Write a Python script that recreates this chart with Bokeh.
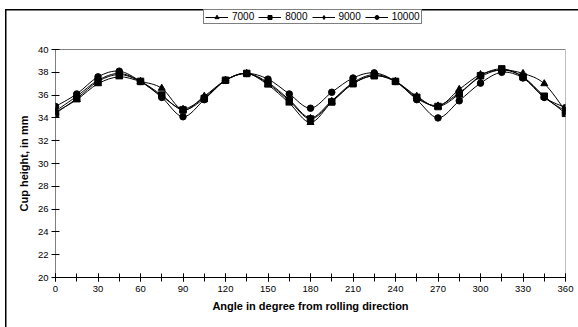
from bokeh.plotting import figure
from bokeh.models import (FixedTicker, Legend, LegendItem, Title,
                          ColumnDataSource, Range1d)
from bokeh.embed import file_html
from bokeh.resources import INLINE

# ---- data ----
angles = [0, 15, 30, 45, 60, 75, 90, 105, 120, 135, 150, 165, 180,
          195, 210, 225, 240, 255, 270, 285, 300, 315, 330, 345, 360]
h7000 = [34.5, 35.6, 37.0, 37.6, 37.2, 36.6, 34.7, 35.9, 37.3, 37.9, 36.9, 35.3, 33.6,
         35.4, 37.0, 37.7, 37.2, 35.9, 35.0, 36.5, 37.8, 38.2, 37.9, 37.0, 34.6]
h8000 = [34.4, 35.7, 37.2, 37.8, 37.2, 36.0, 34.7, 35.7, 37.3, 37.9, 37.0, 35.5, 33.9,
         35.4, 37.0, 37.7, 37.2, 35.8, 35.0, 36.1, 37.7, 38.3, 37.6, 35.9, 34.4]
h9000 = [34.6, 35.9, 37.3, 37.9, 37.2, 35.9, 34.8, 35.8, 37.3, 37.9, 37.1, 35.6, 34.0,
         35.5, 37.1, 37.8, 37.2, 35.7, 35.1, 36.2, 37.6, 38.2, 37.6, 35.8, 34.6]
h10000 = [35.0, 36.1, 37.6, 38.1, 37.2, 35.8, 34.1, 35.6, 37.3, 37.9, 37.4, 36.1, 34.85,
          36.25, 37.5, 37.95, 37.2, 35.6, 34.0, 35.5, 37.05, 38.0, 37.5, 35.8, 34.9]
series_names = ["7000", "8000", "9000", "10000"]
series_values = [h7000, h8000, h9000, h10000]
x_major = [0, 30, 60, 90, 120, 150, 180, 210, 240, 270, 300, 330, 360]
y_major = [20, 22, 24, 26, 28, 30, 32, 34, 36, 38, 40]
x_min, x_max = 0, 360
y_min, y_max = 20, 40

FONT = "Liberation Sans"

# plot area is 228 px for 20 units; the frame is extended upward (to hold the legend)
frame_top, frame_bottom = 0, 277
px_per_unit = 228 / (y_max - y_min)
y_top = y_min + (frame_bottom - frame_top) / px_per_unit

p = figure(width=578, height=327, output_backend="svg", toolbar_location=None,
           x_range=Range1d(x_min, x_max), y_range=Range1d(y_min, y_top),
           min_border_left=55, min_border_right=13, min_border_top=frame_top,
           min_border_bottom=327 - frame_bottom)
# outer chart frame: CSS lines behind the transparent canvas
p.styles = {
    "background-color": "white",
    "background-image": "linear-gradient(#000, #000), linear-gradient(#000, #000)",
    "background-size": "1.5px 400px, 700px 1.5px",
    "background-position": "5px 9px, 5px 9px",
    "background-repeat": "no-repeat",
}
p.border_fill_alpha = 0
p.background_fill_alpha = 0
p.xgrid.visible = False
p.ygrid.visible = False
p.outline_line_color = None

# plot-area border (grey top/right) and black y-axis line, drawn in data space
p.segment(x0=[x_min, x_max], y0=[y_max, y_min], x1=[x_max, x_max], y1=[y_max, y_max],
          line_color="#808080", line_width=1)
p.segment(x0=[x_min], y0=[y_min], x1=[x_min], y1=[y_max], line_color="black", line_width=1)

# axes
p.xaxis.ticker = FixedTicker(ticks=x_major, minor_ticks=angles)
p.yaxis.ticker = FixedTicker(ticks=y_major, minor_ticks=[])
for ax in (p.xaxis[0], p.yaxis[0]):
    ax.axis_line_color = "black"
    ax.axis_line_width = 1
    ax.major_tick_line_color = "black"
    ax.minor_tick_line_color = "black"
    ax.major_tick_in = 4
    ax.major_tick_out = 4
    ax.major_label_text_font = FONT
    ax.major_label_text_font_size = "9.5px"
    ax.major_label_text_color = "black"
    ax.axis_label_text_font = FONT
    ax.axis_label_text_font_size = "11px"
    ax.axis_label_text_font_style = "bold"
    ax.axis_label_text_color = "black"
p.yaxis.axis_line_color = None
p.xaxis.minor_tick_in = 4
p.xaxis.minor_tick_out = 4
p.yaxis.minor_tick_in = 0
p.yaxis.minor_tick_out = 0
p.xaxis.major_label_standoff = 4
p.yaxis.major_label_standoff = 3
p.xaxis.axis_label = "Angle in degree from rolling direction"
p.xaxis.axis_label_standoff = 5

ytitle = Title(text="Cup height, in mm", align="left", offset=66,
               text_font=FONT, text_font_size="11px", text_font_style="bold",
               text_color="black", standoff=9)
p.add_layout(ytitle, "left")


def bezier_source(xs, ys):
    x0, y0, x1, y1, cx0, cy0, cx1, cy1 = [], [], [], [], [], [], [], []
    n = len(xs)
    for i in range(n - 1):
        pa = (xs[max(i - 1, 0)], ys[max(i - 1, 0)])
        pb = (xs[i], ys[i])
        pc = (xs[i + 1], ys[i + 1])
        pd = (xs[min(i + 2, n - 1)], ys[min(i + 2, n - 1)])
        x0.append(pb[0]); y0.append(pb[1])
        x1.append(pc[0]); y1.append(pc[1])
        cx0.append(pb[0] + (pc[0] - pa[0]) / 6.0)
        cy0.append(pb[1] + (pc[1] - pa[1]) / 6.0)
        cx1.append(pc[0] - (pd[0] - pb[0]) / 6.0)
        cy1.append(pc[1] - (pd[1] - pb[1]) / 6.0)
    return ColumnDataSource(dict(x0=x0, y0=y0, x1=x1, y1=y1,
                                 cx0=cx0, cy0=cy0, cx1=cx1, cy1=cy1))


markers = ["triangle", "square", "diamond", "circle"]
sizes = [7, 6.5, 7, 6.5]
items = []
for name, vals, mk, sz in zip(series_names, series_values, markers, sizes):
    p.bezier(x0="x0", y0="y0", x1="x1", y1="y1", cx0="cx0", cy0="cy0",
             cx1="cx1", cy1="cy1", source=bezier_source(angles, vals),
             line_color="black", line_width=1)
    # single-point line: draws nothing in the plot, supplies the legend's line glyph
    key = p.line(x=angles[:1], y=vals[:1], line_color="black", line_width=1)
    sc = p.scatter(x=angles, y=vals, marker=mk, size=sz,
                   fill_color="black", line_color="black")
    items.append(LegendItem(label=name, renderers=[key, sc]))

legend = Legend(items=items, orientation="horizontal",
                location=(148, 253),
                glyph_width=23, glyph_height=10, label_height=10,
                label_standoff=4, spacing=4, padding=1, margin=0,
                label_text_font=FONT, label_text_font_size="10px",
                label_text_color="black",
                border_line_color="black", border_line_width=1,
                background_fill_color="white", background_fill_alpha=1)
p.add_layout(legend, "center")

open("out.html", "w").write(file_html(p, INLINE))
